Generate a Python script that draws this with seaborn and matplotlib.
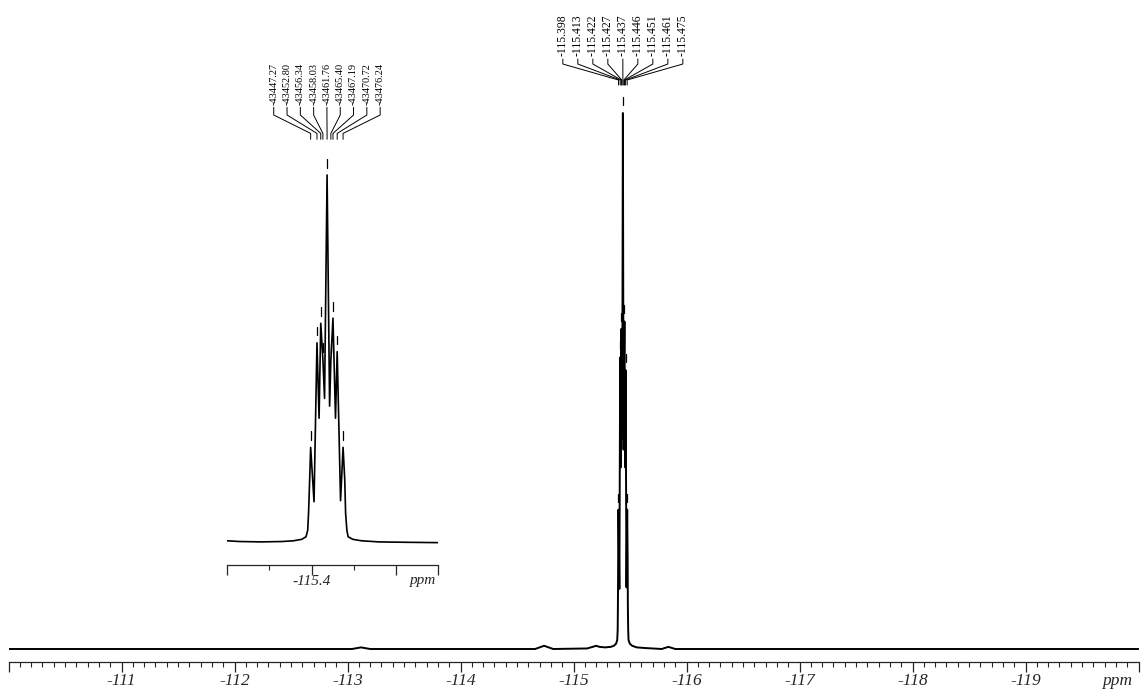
import numpy as np
import pandas as pd
import matplotlib
matplotlib.use("Agg")
import matplotlib.pyplot as plt
import seaborn as sns

# picked peaks of the multiplet (ppm labels on the main axis, Hz labels on the inset)
peak_ppm = [-115.398, -115.413, -115.422, -115.427, -115.437, -115.446, -115.451, -115.461, -115.475]
peak_ppm_labels = ["-115.398", "-115.413", "-115.422", "-115.427", "-115.437",
                   "-115.446", "-115.451", "-115.461", "-115.475"]
peak_hz_labels = ["-43447.27", "-43452.80", "-43456.34", "-43458.03", "-43461.76",
                  "-43465.40", "-43467.19", "-43470.72", "-43476.24"]
peak_height = [0.260, 0.544, 0.597, 0.500, 1.000, 0.497, 0.611, 0.520, 0.260]

# trace of the multiplet
multiplet_ppm = [-115.357, -115.377, -115.387, -115.391, -115.393, -115.3956, -115.398,
                 -115.406, -115.413, -115.418, -115.422, -115.427, -115.431, -115.437,
                 -115.443, -115.446, -115.451, -115.457, -115.461, -115.469, -115.475,
                 -115.479, -115.481, -115.484, -115.487, -115.498, -115.519]
multiplet_int = [0.006, 0.010, 0.017, 0.035, 0.081, 0.171, 0.260,
                 0.112, 0.544, 0.339, 0.597, 0.500, 0.393, 1.000,
                 0.372, 0.497, 0.611, 0.339, 0.520, 0.115, 0.260,
                 0.171, 0.081, 0.035, 0.017, 0.010, 0.006]

# rest of the spectrum: baseline and the small side signals
baseline_ppm = [-110.00, -113.04, -113.12, -113.20, -114.66, -114.70, -114.74, -114.78,
                -114.82, -115.12, -115.17, -115.20, -115.23, -115.28, -115.33,
                -115.56, -115.62, -115.70, -115.78, -115.81, -115.84, -115.87, -115.90,
                -120.00]
baseline_int = [0.0, 0.0, 0.003, 0.0, 0.0, 0.003, 0.006, 0.003,
                0.0, 0.001, 0.004, 0.006, 0.004, 0.003, 0.004,
                0.003, 0.002, 0.001, 0.0, 0.002, 0.004, 0.002, 0.0,
                0.0]

main_ticks = list(range(-110, -121, -1))
main_tick_labels = ["", "-111", "-112", "-113", "-114", "-115", "-116", "-117", "-118", "-119", ""]
inset_ticks = [-115.2, -115.4, -115.6, -115.7]
inset_tick_labels = ["", "-115.4", "", ""]

spectrum = pd.DataFrame({
    "ppm": baseline_ppm + multiplet_ppm,
    "intensity": baseline_int + multiplet_int,
}).sort_values("ppm")

sns.set_style("white")
plt.rcParams["font.family"] = ["Liberation Serif", "DejaVu Serif"]

W, H = 1143, 696
fig = plt.figure(figsize=(W / 100, H / 100), dpi=100)


def label_peaks(ax, texts, spacing, y_text, y_line, fontsize, dash):
    """Rotated peak labels joined to their peaks by kinked leader lines."""
    center = np.mean(peak_ppm)
    n = len(peak_ppm)
    for i, (t, p, h) in enumerate(zip(texts, peak_ppm, peak_height)):
        lx = center - (i - (n - 1) / 2) * spacing
        ax.plot([lx, lx, p, p], y_line, color="black", lw=0.7, clip_on=False)
        ax.text(lx, y_text, t, rotation=90, ha="center", va="bottom",
                fontsize=fontsize, color="black")
        ax.plot([p, p], [h + dash[0], h + dash[1]], color="black", lw=0.9)


def style_axis(ax):
    for side in ["left", "right", "top"]:
        ax.spines[side].set_visible(False)
    ax.spines["bottom"].set_linewidth(0.9)
    ax.set_yticks([])
    ax.set_xlabel("")
    ax.set_ylabel("")
    ax.patch.set_alpha(0)


# main spectrum
ax = fig.add_axes([8.5 / W, 34 / H, 1130 / W, 662 / H])
sns.lineplot(data=spectrum, x="ppm", y="intensity", ax=ax, color="black",
             linewidth=1.4, estimator=None)
ax.set_xlim(-110, -120)
ax.set_ylim(-13 / 536, 649 / 536)
style_axis(ax)
ax.set_xticks(main_ticks)
ax.set_xticklabels(main_tick_labels, fontsize=12.5, fontstyle="italic")
ax.set_xticks(np.arange(-110, -120.01, -0.1), minor=True)
ax.tick_params(axis="x", which="major", direction="out", length=7.5, width=0.9, pad=0.5, bottom=True)
ax.tick_params(axis="x", which="minor", direction="out", length=3.3, width=0.8, bottom=True)
ax.text(-119.81, -36 / 536, "ppm", fontsize=12.5, fontstyle="italic",
        ha="center", va="baseline")
label_peaks(ax, peak_ppm_labels, 15 / 113, 1.1063,
            [1.1007, 1.0914, 1.0616, 1.0522], 8.4, (0.015, 0.030))

# expanded multiplet
ins = fig.add_axes([227.3 / W, (H - 565) / H, 210.5 / W, 515 / H])
sns.lineplot(data=spectrum, x="ppm", y="intensity", ax=ins, color="black",
             linewidth=1.2, estimator=None)
ins.set_xlim(-115.2, -115.7)
ins.set_ylim(-22 / 368, 493 / 368)
style_axis(ins)
ins.set_xticks(inset_ticks)
ins.set_xticklabels(inset_tick_labels, fontsize=11, fontstyle="italic")
ins.set_xticks([-115.3, -115.5], minor=True)
ins.tick_params(axis="x", which="major", direction="out", length=7, width=0.9, pad=0, bottom=True)
ins.tick_params(axis="x", which="minor", direction="out", length=3.5, width=0.8, bottom=True)
ins.text(-115.666, -41 / 368, "ppm", fontsize=11, fontstyle="italic",
         ha="center", va="baseline")
label_peaks(ins, peak_hz_labels, 13.3 / 421, 1.190,
            [1.184, 1.163, 1.113, 1.097], 7.4, (0.020, 0.043))

fig.savefig("out.png", dpi=100)
